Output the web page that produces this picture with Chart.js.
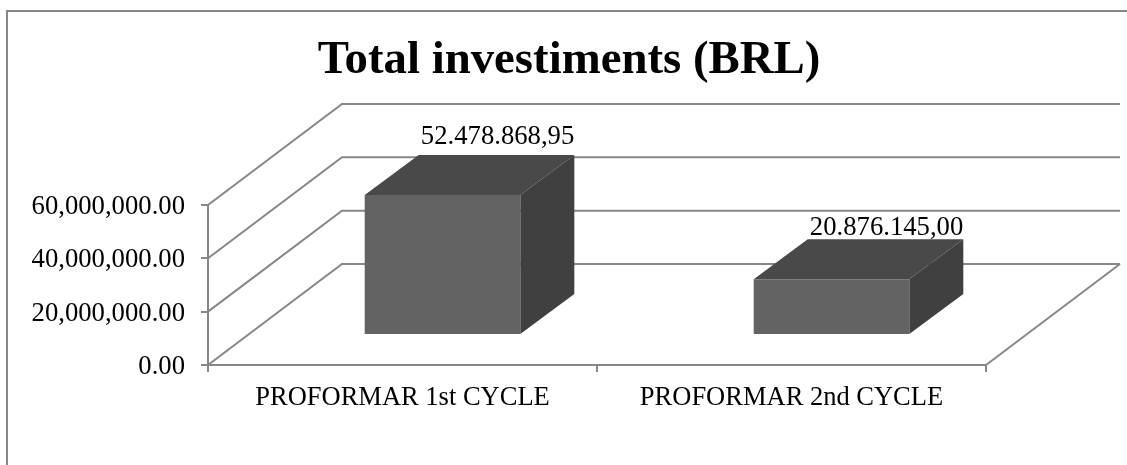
<!DOCTYPE html>
<html>
<head>
<meta charset="utf-8">
<style>
  html, body { margin: 0; padding: 0; background: #fff; }
  #wrap { position: relative; width: 1127px; height: 465px; }
</style>
<script src="https://cdn.jsdelivr.net/npm/chart.js@4"></script>
</head>
<body>
<div id="wrap"><canvas id="chart" width="1127" height="465"></canvas></div>
<script>
const chartTitle = 'Total investiments (BRL)';
const categories = ['PROFORMAR 1st CYCLE', 'PROFORMAR 2nd CYCLE'];
const investments = [52478868.95, 20876145.0];
const valueLabels = ['52.478.868,95', '20.876.145,00'];
const yTicks = [0, 20000000, 40000000, 60000000];

const LINE = '#878787';
const FONT = '"Liberation Serif", "Times New Roman", serif';

// depth of the fake 3D box
const WALL = { dx: 134, dy: -101 };
const BAR_SHIFT = { dx: 40, dy: -30 };
const BAR_DEPTH = { dx: 54, dy: -40 };
const LABEL_LIFT = [11, 4];

function poly(ctx, points, fill) {
  ctx.beginPath();
  points.forEach(([x, y], i) => (i ? ctx.lineTo(x, y) : ctx.moveTo(x, y)));
  ctx.closePath();
  ctx.fillStyle = fill;
  ctx.fill();
}

const box3dPlugin = {
  id: 'box3d',
  beforeDraw(chart) {
    const ctx = chart.ctx;
    const { left, right, bottom } = chart.chartArea;
    const yScale = chart.scales.y;
    ctx.save();
    ctx.strokeStyle = LINE;
    ctx.lineWidth = 2;

    // outer frame, open on the right and at the bottom
    ctx.beginPath();
    ctx.moveTo(7, 465);
    ctx.lineTo(7, 11);
    ctx.lineTo(1127, 11);
    ctx.stroke();

    // side wall and back wall lines for every tick
    yTicks.forEach((value) => {
      const y = yScale.getPixelForValue(value);
      ctx.beginPath();
      ctx.moveTo(left, y);
      ctx.lineTo(left + WALL.dx, y + WALL.dy);
      ctx.lineTo(right + WALL.dx, y + WALL.dy);
      ctx.stroke();
    });

    // right edge of the floor
    ctx.beginPath();
    ctx.moveTo(right, bottom);
    ctx.lineTo(right + WALL.dx, bottom + WALL.dy);
    ctx.stroke();
    ctx.restore();
  },
  beforeDatasetDraw(chart) {
    const ctx = chart.ctx;
    ctx.save();
    ctx.translate(BAR_SHIFT.dx, BAR_SHIFT.dy);
    chart.getDatasetMeta(0).data.forEach((bar) => {
      const l = bar.x - bar.width / 2;
      const r = bar.x + bar.width / 2;
      poly(ctx, [[l, bar.y], [r, bar.y], [r + BAR_DEPTH.dx, bar.y + BAR_DEPTH.dy], [l + BAR_DEPTH.dx, bar.y + BAR_DEPTH.dy]], '#494949');
      poly(ctx, [[r, bar.y], [r + BAR_DEPTH.dx, bar.y + BAR_DEPTH.dy], [r + BAR_DEPTH.dx, bar.base + BAR_DEPTH.dy], [r, bar.base]], '#404040');
    });
  },
  afterDatasetDraw(chart) {
    const ctx = chart.ctx;
    ctx.restore();
    ctx.save();
    ctx.font = '26.7px ' + FONT;
    ctx.fillStyle = '#000';
    ctx.textAlign = 'right';
    ctx.textBaseline = 'alphabetic';
    chart.getDatasetMeta(0).data.forEach((bar, i) => {
      const x = bar.x + bar.width / 2 + BAR_SHIFT.dx + BAR_DEPTH.dx;
      const y = bar.y + BAR_SHIFT.dy + BAR_DEPTH.dy - LABEL_LIFT[i];
      ctx.fillText(valueLabels[i], x, y);
    });
    ctx.restore();
  }
};

new Chart(document.getElementById('chart'), {
  type: 'bar',
  data: {
    labels: categories,
    datasets: [{
      data: investments,
      backgroundColor: '#636363',
      borderWidth: 0,
      barPercentage: 0.4,
      categoryPercentage: 1
    }]
  },
  plugins: [box3dPlugin],
  options: {
    responsive: false,
    animation: false,
    layout: { padding: { left: 11, right: 0, top: 0, bottom: 0 } },
    scales: {
      x: {
        offset: true,
        afterFit(scale) { scale.height = 100; },
        grid: { drawOnChartArea: false, color: LINE, lineWidth: 2, tickLength: 7, tickColor: LINE },
        border: { color: LINE, width: 2 },
        ticks: { color: '#000', font: { family: FONT, size: 26.5 }, padding: 10, maxRotation: 0 }
      },
      y: {
        min: 0,
        max: 60000000,
        afterFit(scale) { scale.width = 197; },
        afterBuildTicks(scale) { scale.ticks = yTicks.map((value) => ({ value })); },
        grid: { drawOnChartArea: false, color: LINE, lineWidth: 2, tickLength: 7, tickColor: LINE },
        border: { color: LINE, width: 2 },
        ticks: {
          color: '#000',
          font: { family: FONT, size: 26.7, lineHeight: '4px' },
          padding: 16,
          // empty first line pushes the text down a little, like the original
          callback: (v) => ['', v.toLocaleString('en-US', { minimumFractionDigits: 2, maximumFractionDigits: 2 })]
        }
      },
      // empty axis, only reserves the room the back wall runs into
      spacer: {
        position: 'right',
        afterFit(scale) { scale.width = 141; },
        grid: { display: false },
        border: { display: false },
        ticks: { display: false }
      }
    },
    plugins: {
      legend: { display: false },
      tooltip: { enabled: false },
      title: {
        display: true,
        text: chartTitle,
        color: '#000',
        font: { family: FONT, size: 46.8, weight: 'bold', lineHeight: 1.2 },
        padding: { top: 33, bottom: 115.8 }
      }
    }
  }
});
</script>
</body>
</html>
